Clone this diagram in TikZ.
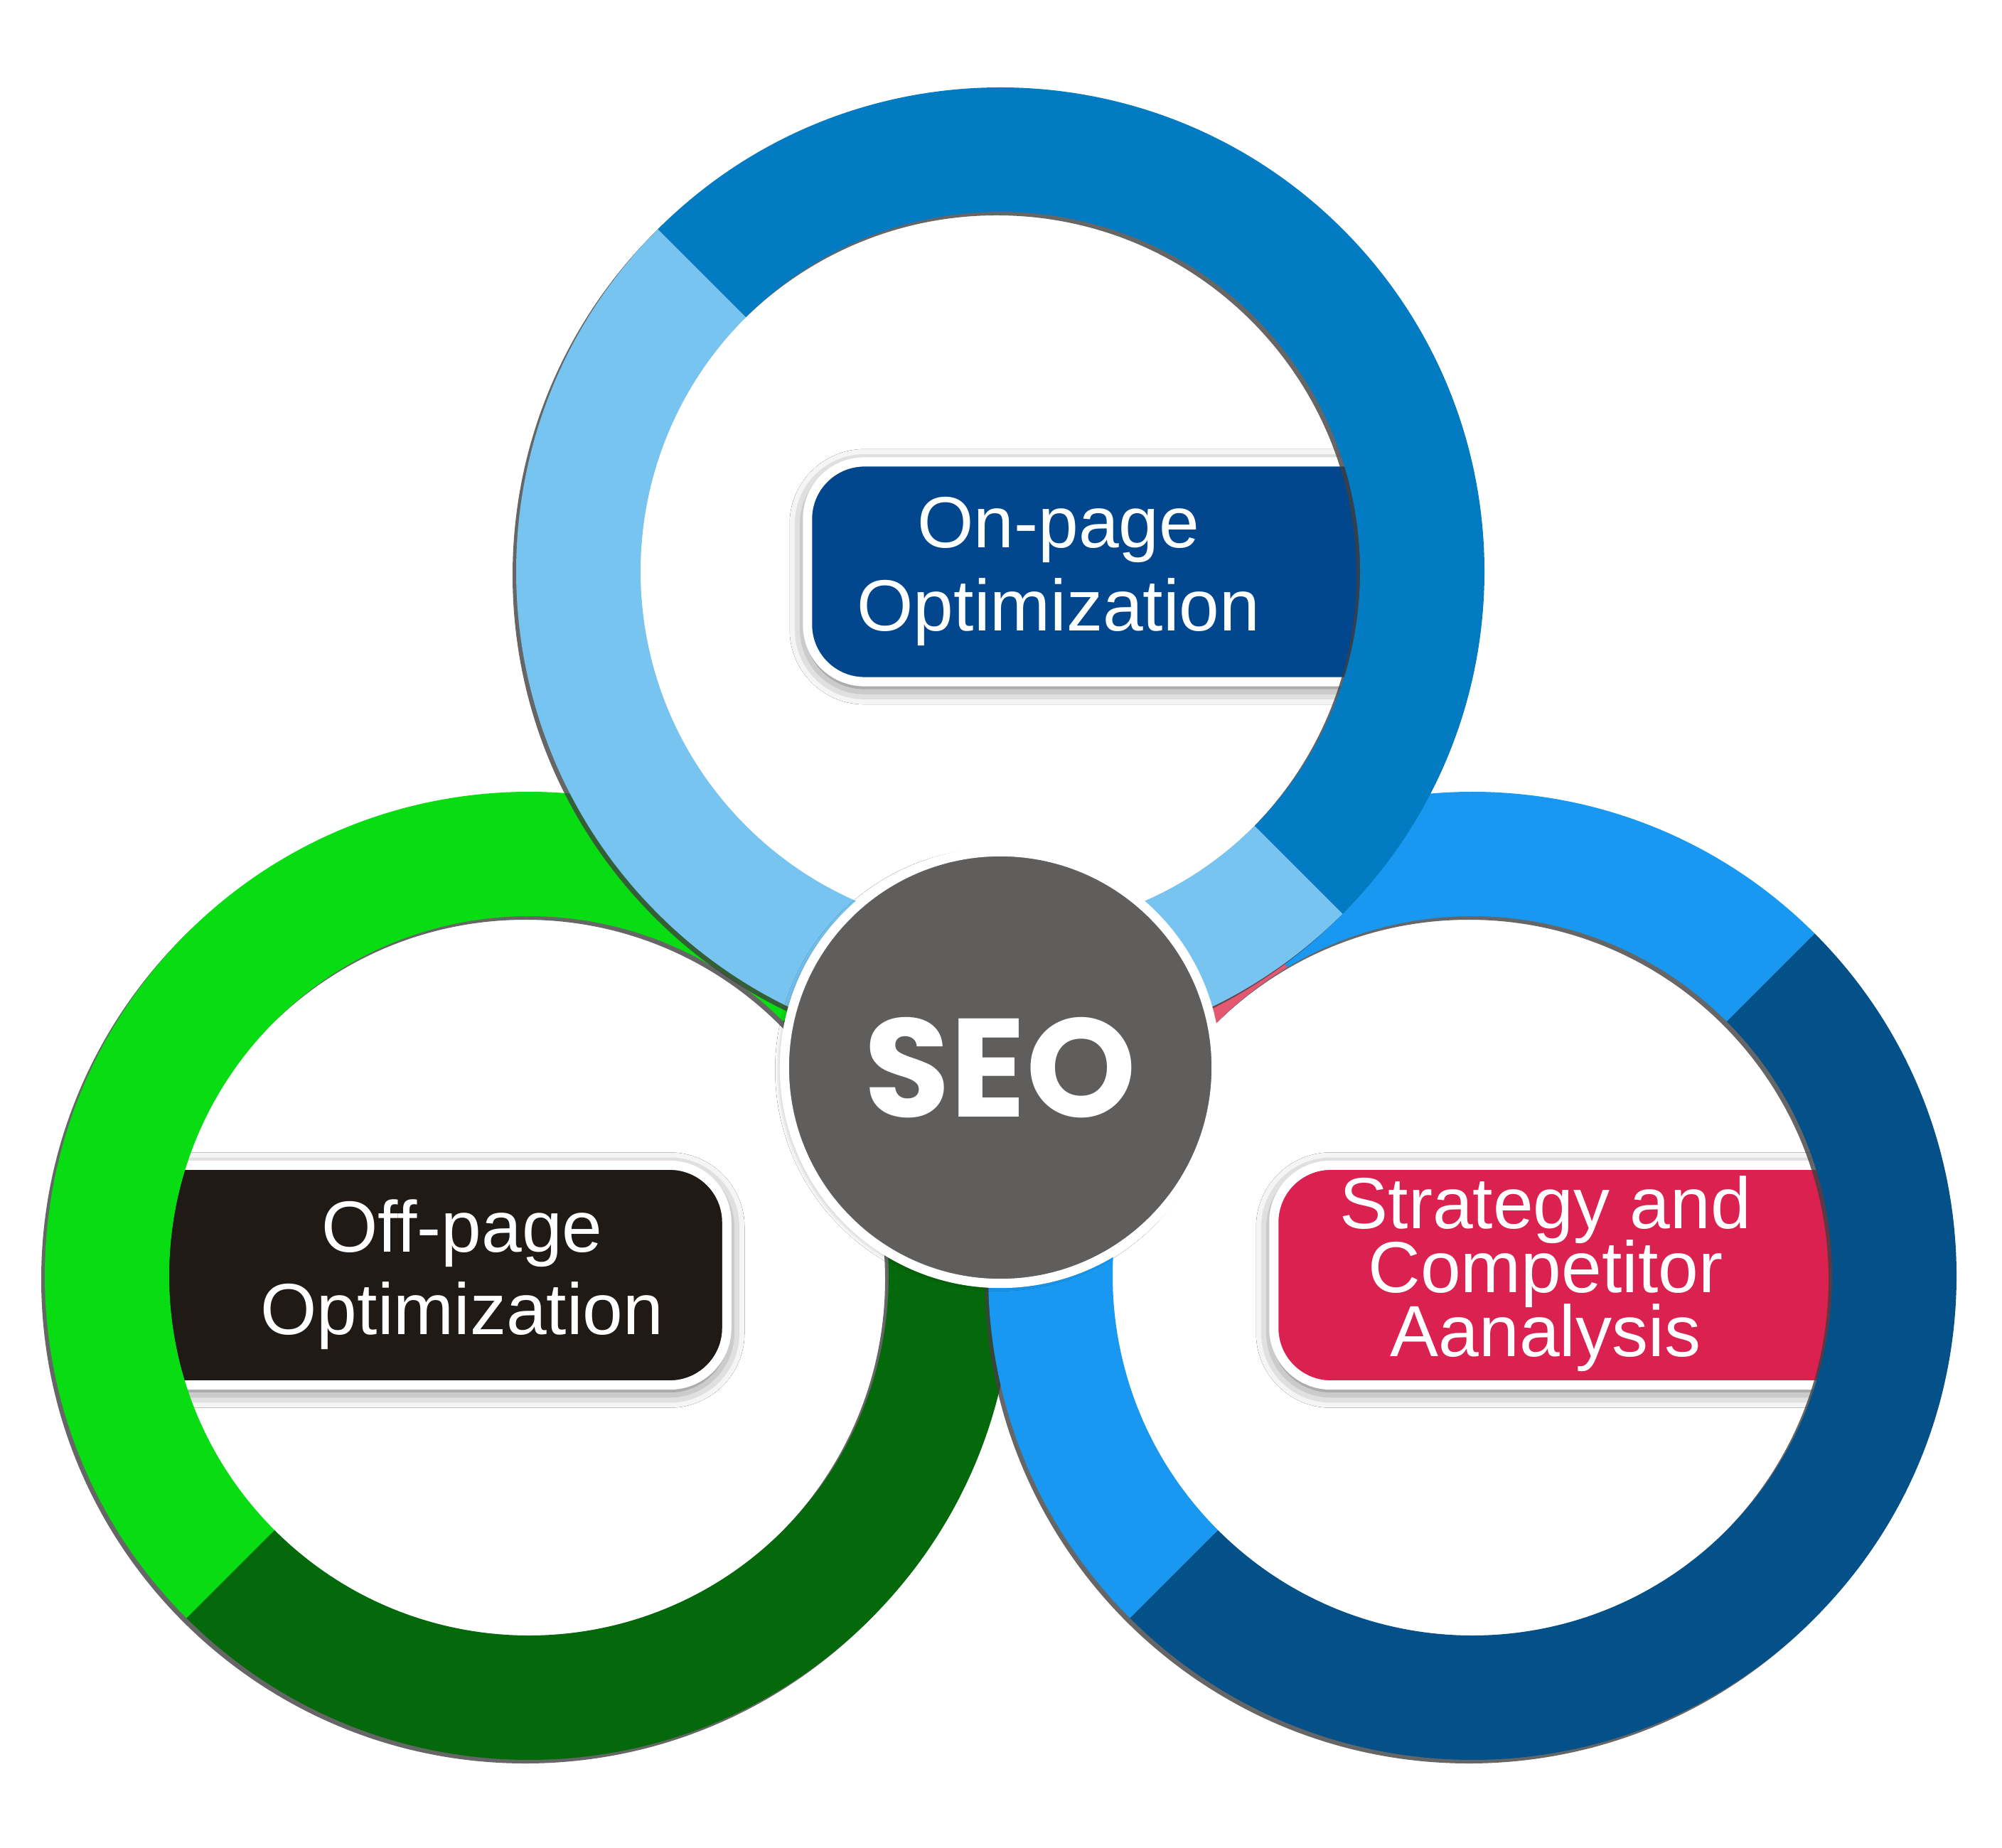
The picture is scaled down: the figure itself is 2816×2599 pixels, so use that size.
\documentclass[tikz,border=0pt]{standalone}
\usepackage{fontspec}
\newfontfamily\lblfont{Liberation Sans}
\newfontfamily\seofont{Poppins}
\usetikzlibrary{calc,shadows.blur}
\setlength{\lineskiplimit}{-30pt}
\definecolor{tdark}{HTML}{027BC2}
\definecolor{tlight}{HTML}{77C4F0}
\definecolor{gbright}{HTML}{08DC12}
\definecolor{gdark}{HTML}{04690A}
\definecolor{rblue}{HTML}{1898F0}
\definecolor{rnavy}{HTML}{04518A}
\definecolor{rpink}{HTML}{E3576F}
\definecolor{onfill}{HTML}{02468E}
\definecolor{offfill}{HTML}{201A17}
\definecolor{strfill}{HTML}{DA2150}
\definecolor{seogray}{HTML}{5F5E5C}
\tikzset{
  lblbox/.style={draw=white,line width=0.13cm,rounded corners=0.8cm,inner sep=0pt,minimum height=3.09cm,
    blur shadow={shadow xshift=0pt,shadow yshift=-0.07cm,shadow blur radius=0.25cm,shadow opacity=65}},
  lbl/.style={text=white,align=center,inner sep=0pt,font=\lblfont\fontsize{29}{33}\selectfont},
  ringshade/.style={fill=black!75,opacity=0.8,even odd rule},
}
\begin{document}
\begin{tikzpicture}[x=0.01cm,y=0.01cm]
  \useasboundingbox (0,0) rectangle (2816,2599);
  \fill[white] (0,0) rectangle (2816,2599);
  \coordinate (ringT) at (1407,1795);
  \coordinate (ringL) at (744,804);
  \coordinate (ringR) at (2071,804);
  % labels
  \node[lblbox,fill=onfill,minimum width=8.64cm] (onbox) at (1568,1794.5) {};
  \node[lbl] (ontxt) at (1489,1795) {On-page\\Optimization};
  \node[lblbox,fill=offfill,minimum width=8.92cm] (offbox) at (576,805) {};
  \node[lbl] (offtxt) at (650,805.5) {Off-page\\Optimization};
  \node[lblbox,fill=strfill,minimum width=8.88cm] (strbox) at (2236,805) {};
  \node[lbl,font=\lblfont\fontsize{29}{25.5}\selectfont] (strtxt) at (2174,807) {Strategy and\\Competitor\\Aanalysis};
  % left ring
  \fill[ringshade] ($(ringL)+(-5,-5)$) circle[radius=681] circle[radius=506];
  \foreach \a/\b/\col in {45/225/gbright,225/405/gdark}
    \fill[\col] ($(ringL)+(\a:681)$) arc[start angle=\a,end angle=\b,radius=681]
      -- ($(ringL)+(\b:506)$) arc[start angle=\b,end angle=\a,radius=506] -- cycle;
  % right ring
  \fill[ringshade] ($(ringR)+(-5,-5)$) circle[radius=681] circle[radius=506];
  \foreach \a/\b/\col in {45/225/rblue,121/160/rpink,225/405/rnavy}
    \fill[\col] ($(ringR)+(\a:681)$) arc[start angle=\a,end angle=\b,radius=681]
      -- ($(ringR)+(\b:506)$) arc[start angle=\b,end angle=\a,radius=506] -- cycle;
  % top ring
  \fill[ringshade] ($(ringT)+(-5,-5)$) circle[radius=681] circle[radius=506];
  \foreach \a/\b/\col in {135/315/tlight,-45/135/tdark}
    \fill[\col] ($(ringT)+(\a:681)$) arc[start angle=\a,end angle=\b,radius=681]
      -- ($(ringT)+(\b:506)$) arc[start angle=\b,end angle=\a,radius=506] -- cycle;
  % centre
  \node[circle,fill=seogray,draw=white,line width=0.13cm,minimum size=6.07cm,inner sep=0pt,
    blur shadow={shadow xshift=-0.05cm,shadow yshift=-0.03cm,shadow blur radius=0.08cm,shadow opacity=35},
    text=white,font=\seofont\bfseries\fontsize{56}{56}\selectfont] (seo) at (1407,1097) {SEO};
\end{tikzpicture}
\end{document}
